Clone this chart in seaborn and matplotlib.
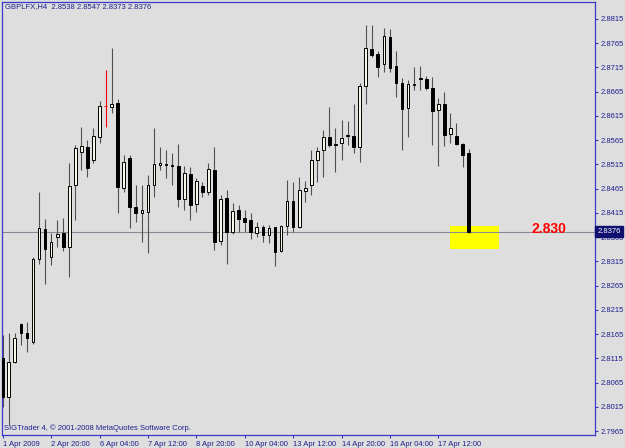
import numpy as np
import pandas as pd
import seaborn as sns
import matplotlib
matplotlib.use("Agg")
import matplotlib.pyplot as plt
from matplotlib.patches import Rectangle
import matplotlib.transforms as mtransforms

# 1. Dados (GBPLFX H4, barras)
header = "GBPLFX,H4  2.8538 2.8547 2.8373 2.8376"
opens = [2.8116, 2.8036, 2.8108, 2.8186, 2.8168, 2.8149, 2.8320, 2.8382, 2.8324, 2.8366,
         2.8374, 2.8345, 2.8473, 2.8541, 2.8551, 2.8524, 2.8572, 2.8636, 2.8634, 2.8642,
         2.8467, 2.8528, 2.8427, 2.8415, 2.8417, 2.8473, 2.8514, 2.8516, 2.8514, 2.8512,
         2.8444, 2.8495, 2.8434, 2.8471, 2.8458, 2.8504, 2.8357, 2.8446, 2.8376, 2.8421,
         2.8405, 2.8401, 2.8374, 2.8386, 2.8370, 2.8386, 2.8337, 2.8388, 2.8440, 2.8386,
         2.8460, 2.8473, 2.8524, 2.8545, 2.8572, 2.8555, 2.8559, 2.8576, 2.8574, 2.8551,
         2.8677, 2.8753, 2.8743, 2.8722, 2.8778, 2.8718, 2.8683, 2.8631, 2.8679, 2.8693,
         2.8691, 2.8673, 2.8627, 2.8640, 2.8578, 2.8574, 2.8557, 2.8538]
highs = [2.8163, 2.8168, 2.8168, 2.8188, 2.8190, 2.8324, 2.8458, 2.8403, 2.8374, 2.8401,
         2.8405, 2.8518, 2.8555, 2.8592, 2.8566, 2.8590, 2.8646, 2.8710, 2.8755, 2.8650,
         2.8535, 2.8535, 2.8473, 2.8473, 2.8493, 2.8590, 2.8551, 2.8545, 2.8539, 2.8557,
         2.8512, 2.8510, 2.8487, 2.8479, 2.8518, 2.8551, 2.8452, 2.8462, 2.8436, 2.8431,
         2.8421, 2.8415, 2.8396, 2.8390, 2.8390, 2.8386, 2.8390, 2.8483, 2.8479, 2.8489,
         2.8481, 2.8545, 2.8551, 2.8586, 2.8634, 2.8590, 2.8607, 2.8605, 2.8640, 2.8683,
         2.8803, 2.8803, 2.8749, 2.8796, 2.8794, 2.8749, 2.8693, 2.8689, 2.8716, 2.8718,
         2.8697, 2.8695, 2.8652, 2.8664, 2.8621, 2.8601, 2.8559, 2.8547]
lows = [2.8015, 2.7978, 2.8106, 2.8143, 2.8128, 2.8145, 2.8310, 2.8269, 2.8308, 2.8345,
        2.8337, 2.8283, 2.8401, 2.8504, 2.8489, 2.8518, 2.8559, 2.8592, 2.8621, 2.8415,
        2.8458, 2.8384, 2.8396, 2.8355, 2.8333, 2.8448, 2.8504, 2.8487, 2.8473, 2.8427,
        2.8421, 2.8401, 2.8417, 2.8448, 2.8452, 2.8339, 2.8349, 2.8310, 2.8372, 2.8376,
        2.8376, 2.8361, 2.8366, 2.8355, 2.8353, 2.8306, 2.8335, 2.8370, 2.8376, 2.8384,
        2.8438, 2.8452, 2.8479, 2.8489, 2.8551, 2.8500, 2.8524, 2.8555, 2.8539, 2.8520,
        2.8640, 2.8737, 2.8695, 2.8706, 2.8706, 2.8654, 2.8545, 2.8572, 2.8669, 2.8669,
        2.8669, 2.8555, 2.8512, 2.8553, 2.8559, 2.8555, 2.8510, 2.8373]
closes = [2.8036, 2.8108, 2.8157, 2.8168, 2.8157, 2.8320, 2.8384, 2.8341, 2.8355, 2.8372,
          2.8345, 2.8471, 2.8549, 2.8553, 2.8508, 2.8574, 2.8636, 2.8636, 2.8640, 2.8469,
          2.8520, 2.8427, 2.8415, 2.8421, 2.8473, 2.8516, 2.8518, 2.8514, 2.8512, 2.8444,
          2.8497, 2.8431, 2.8481, 2.8458, 2.8506, 2.8355, 2.8444, 2.8376, 2.8419, 2.8403,
          2.8396, 2.8376, 2.8386, 2.8370, 2.8384, 2.8335, 2.8388, 2.8440, 2.8386, 2.8462,
          2.8467, 2.8524, 2.8543, 2.8572, 2.8555, 2.8557, 2.8570, 2.8574, 2.8551, 2.8677,
          2.8755, 2.8741, 2.8716, 2.8780, 2.8714, 2.8683, 2.8629, 2.8681, 2.8681, 2.8691,
          2.8673, 2.8625, 2.8640, 2.8576, 2.8590, 2.8557, 2.8535, 2.8376]
red_bar = 17

date_ticks = [0, 8, 16, 24, 32, 40, 48, 56, 64, 72]
date_labels = ["1 Apr 2009", "2 Apr 20:00", "6 Apr 04:00", "7 Apr 12:00", "8 Apr 20:00",
               "10 Apr 04:00", "13 Apr 12:00", "14 Apr 20:00", "16 Apr 04:00", "17 Apr 12:00"]
price_ticks = [2.7965, 2.8015, 2.8065, 2.8115, 2.8165, 2.8215, 2.8265, 2.8315, 2.8365,
               2.8415, 2.8465, 2.8515, 2.8565, 2.8615, 2.8665, 2.8715, 2.8765, 2.8815]

last_price = 2.8376
target_text = "2.830"
zone_low, zone_high = 2.8341, 2.8388
zone_bars = (73.9, 82.0)
target_pos = (90.3, 2.8382)

df = pd.DataFrame({"open": opens, "high": highs, "low": lows, "close": closes})
df["bar"] = np.arange(len(df))
df["up"] = df["close"] >= df["open"]

# 2. Estilo
navy = "#1f1f8f"
blue = "#3a3ac8"
bg = "#dedede"
sns.set_style("white", {"axes.facecolor": bg, "figure.facecolor": bg})
plt.rcParams["font.family"] = ["Liberation Sans", "DejaVu Sans"]

fig = plt.figure(figsize=(6.25, 4.48), dpi=100)
ax = fig.add_axes([2 / 625, 13 / 448, 593 / 625, 433 / 448])

# 3. Zona amarela
ax.add_patch(Rectangle((zone_bars[0], zone_low), zone_bars[1] - zone_bars[0],
                       zone_high - zone_low, facecolor="#ffff00", edgecolor="none", zorder=1))

# 4. Linha do último preço
ax.axhline(last_price, color="#8a8a96", lw=0.8, zorder=1.5)

# 5. Velas
wick_col = ["#ff0000" if b == red_bar else "#505050" for b in df["bar"]]
ax.vlines(df["bar"], df["low"], df["high"], colors=wick_col, lw=0.8, zorder=2)
body_lo = df[["open", "close"]].min(axis=1)
body_h = (df["close"] - df["open"]).abs()
face = ["#f6f6ea" if u else "#000000" for u in df["up"]]
edge = ["#ff0000" if b == red_bar else "#000000" for b in df["bar"]]
ax.bar(df["bar"], body_h, bottom=body_lo, width=0.45, color=face, edgecolor=edge,
       linewidth=0.7, zorder=3)

# 6. Texto do alvo
ax.text(target_pos[0], target_pos[1], target_text, color="#ff0000", fontsize=10,
        fontweight="bold", ha="center", va="center", zorder=4)

# 7. Eixos
ax.set_xlim(-0.12, 97.9)
ax.set_ylim(2.7957, 2.8850)
ax.yaxis.tick_right()
ax.set_yticks(price_ticks)
ax.set_yticklabels([f"{p:.4f}" for p in price_ticks])
ax.set_xticks(date_ticks)
ax.set_xticklabels(date_labels, ha="left")
ax.tick_params(axis="both", colors=blue, labelcolor=navy, labelsize=5.5, length=2.5,
               width=0.8, direction="out", pad=1.5)
ax.tick_params(axis="y", right=True, left=False)
ax.tick_params(axis="x", bottom=True)
for s in ax.spines.values():
    s.set_visible(True)
    s.set_color(blue)
    s.set_linewidth(0.9)

# caixa do preço atual
trans = mtransforms.blended_transform_factory(ax.transAxes, ax.transData)
ax.text(1.004, last_price, f"{last_price:.4f}", transform=trans, color="white",
        fontsize=5.5, ha="left", va="center", clip_on=False, zorder=5,
        bbox=dict(boxstyle="square,pad=0.25", facecolor="#101070", edgecolor="#101070"))

fig.text(5 / 625, 1 - 7 / 448, header, color=navy, fontsize=5.5, ha="left", va="center")
fig.text(4 / 625, 1 - 428 / 448, "SIGTrader 4, © 2001-2008 MetaQuotes Software Corp.",
         color=navy, fontsize=5.5, ha="left", va="center")

fig.savefig("out.png", dpi=100, facecolor=bg)
